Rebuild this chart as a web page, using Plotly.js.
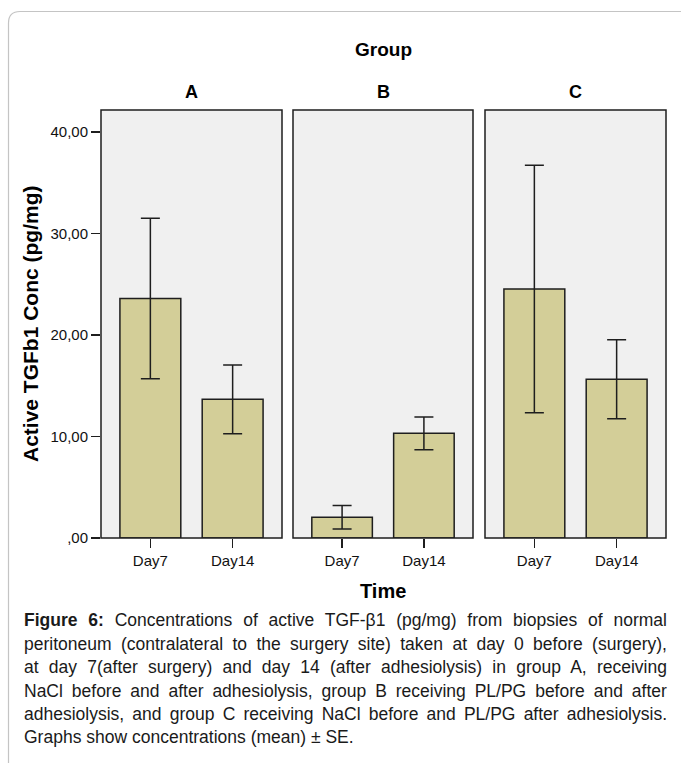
<!DOCTYPE html>
<html>
<head>
<meta charset="utf-8">
<script src="https://cdn.plot.ly/plotly-3.0.1.min.js"></script>
<style>html,body{margin:0;padding:0;background:#fff;}#chart{width:681px;height:763px;}</style>
</head>
<body>
<div id="chart"></div>
<script>
// ---- data ----
const categories = ['Day7', 'Day14'];
const groups = ['A', 'B', 'C'];
const meanA = [23.6, 13.66];
const seA = [7.9, 3.38];
const meanB = [2.04, 10.31];
const seB = [1.16, 1.62];
const meanC = [24.53, 15.64];
const seC = [12.2, 3.9];
const yTickVals = [0, 10, 20, 30, 40];
const yTickText = [',00', '10,00', '20,00', '30,00', '40,00'];
const captionLines = [
  '<b>Figure 6:</b> Concentrations of active TGF-β1 (pg/mg) from biopsies of normal',
  'peritoneum (contralateral to the surgery site) taken at day 0 before (surgery),',
  'at day 7(after surgery) and day 14 (after adhesiolysis) in group A, receiving',
  'NaCl before and after adhesiolysis, group B receiving PL/PG before and after',
  'adhesiolysis, and group C receiving NaCl before and PL/PG after adhesiolysis.',
  'Graphs show concentrations (mean) ± SE.'
];

// ---- layout helpers ----
const W = 681, H = 763;
const px = v => v / W;
const py = v => 1 - v / H;
const FONT = 'Liberation Sans, Arial, sans-serif';
const barColor = '#d3ce98';
const edge = '#1e1e1e';

const means = [meanA, meanB, meanC];
const ses = [seA, seB, seC];
const axisIds = ['x', 'x2', 'x3'];

const traces = groups.map((g, i) => ({
  type: 'bar',
  name: g,
  x: categories,
  y: means[i],
  xaxis: axisIds[i],
  yaxis: 'y',
  width: 0.74,
  marker: {color: barColor, line: {color: edge, width: 1.5}},
  error_y: {type: 'data', array: ses[i], visible: true, color: edge, thickness: 1.5, width: 9.5},
  showlegend: false,
  hoverinfo: 'x+y'
}));

const panels = [[101, 282], [293, 473], [485, 666]];
const yTop = 110, yBot = 538;

const xBase = {
  type: 'category',
  range: [-0.6, 1.6],
  showgrid: false,
  zeroline: false,
  showline: false,
  ticks: 'outside',
  ticklen: 9,
  tickwidth: 1.5,
  tickcolor: edge,
  tickfont: {family: FONT, size: 15, color: '#111'},
  fixedrange: true
};

const layout = {
  width: W, height: H,
  margin: {l: 0, r: 0, t: 0, b: 0},
  paper_bgcolor: '#ffffff',
  plot_bgcolor: '#f0f0f0',
  showlegend: false,
  bargap: 0,
  xaxis: Object.assign({}, xBase, {domain: [px(panels[0][0]), px(panels[0][1])], anchor: 'y'}),
  xaxis2: Object.assign({}, xBase, {domain: [px(panels[1][0]), px(panels[1][1])], anchor: 'y'}),
  xaxis3: Object.assign({}, xBase, {domain: [px(panels[2][0]), px(panels[2][1])], anchor: 'y'}),
  yaxis: {
    domain: [py(yBot), py(yTop)],
    range: [0, (yBot - yTop) / 101.5 * 10],
    anchor: 'x',
    tickvals: yTickVals,
    ticktext: yTickText,
    ticks: 'outside',
    ticklen: 9,
    tickwidth: 1.5,
    tickcolor: edge,
    showgrid: false,
    zeroline: false,
    showline: false,
    tickfont: {family: FONT, size: 15, color: '#111'},
    fixedrange: true
  },
  shapes: [],
  annotations: []
};

// panel borders
panels.forEach(p => {
  layout.shapes.push({
    type: 'rect', xref: 'paper', yref: 'paper',
    x0: px(p[0]), x1: px(p[1]), y0: py(yBot), y1: py(yTop),
    line: {color: edge, width: 1.5}, fillcolor: 'rgba(0,0,0,0)', layer: 'above'
  });
});

// outer rounded border (left and top edges)
layout.shapes.push({
  type: 'path', xref: 'paper', yref: 'paper',
  path: `M ${px(8.5)},${py(770)} L ${px(8.5)},${py(23)} Q ${px(8.5)},${py(11.5)} ${px(20)},${py(11.5)} L ${px(690)},${py(11.5)}`,
  line: {color: '#c4c4c4', width: 1.2}
});

// titles
layout.annotations.push({
  text: '<b>Group</b>', xref: 'paper', yref: 'paper', x: px(383), y: py(49),
  xanchor: 'center', yanchor: 'middle', showarrow: false,
  font: {family: FONT, size: 19, color: '#000'}
});
groups.forEach((g, i) => {
  layout.annotations.push({
    text: '<b>' + g + '</b>', xref: 'paper', yref: 'paper',
    x: px((panels[i][0] + panels[i][1]) / 2), y: py(92.5),
    xanchor: 'center', yanchor: 'middle', showarrow: false,
    font: {family: FONT, size: 18, color: '#000'}
  });
});
layout.annotations.push({
  text: '<b>Time</b>', xref: 'paper', yref: 'paper', x: px(383), y: py(591),
  xanchor: 'center', yanchor: 'middle', showarrow: false,
  font: {family: FONT, size: 20, color: '#000'}
});
layout.annotations.push({
  text: '<b>Active TGFb1 Conc (pg/mg)</b>', xref: 'paper', yref: 'paper', x: px(31), y: py(324),
  xanchor: 'center', yanchor: 'middle', showarrow: false, textangle: -90,
  font: {family: FONT, size: 21, color: '#000'}
});

// caption
const capY = [620, 644, 667, 690.5, 714, 737];
const capFirst = layout.annotations.length;
captionLines.forEach((t, i) => {
  layout.annotations.push({
    text: t, xref: 'paper', yref: 'paper', x: px(22), y: py(capY[i]),
    xanchor: 'left', yanchor: 'middle', align: 'left', showarrow: false,
    font: {family: FONT, size: 17.5, color: '#1a1a1a'}
  });
});

Plotly.newPlot('chart', traces, layout, {displayModeBar: false, staticPlot: true}).then(gd => {
  // justify caption lines (all but the last) to the column width
  const colWidth = 665 - 22;
  const anns = gd.querySelectorAll('.annotation');
  for (let i = 0; i < captionLines.length - 1; i++) {
    const g = anns[capFirst + i];
    if (!g) continue;
    const txt = g.querySelector('text.annotation-text');
    if (!txt) continue;
    const w = txt.getBBox().width;
    const spaces = (txt.textContent.match(/ /g) || []).length;
    if (spaces > 0 && w < colWidth) {
      txt.style.wordSpacing = ((colWidth - w) / spaces).toFixed(2) + 'px';
    }
  }
});
</script>
</body>
</html>
